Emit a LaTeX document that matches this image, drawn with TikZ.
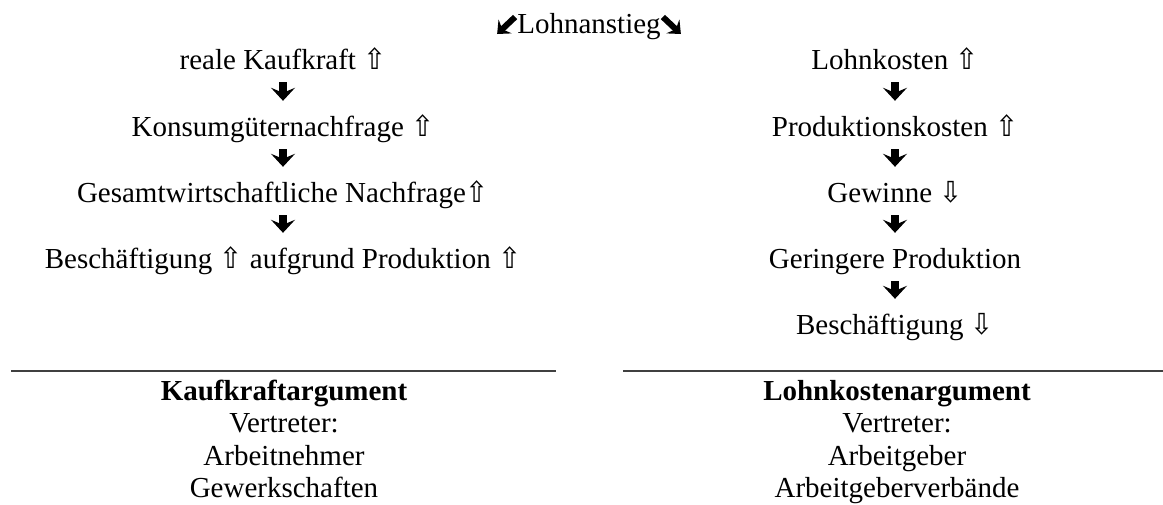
\documentclass[tikz,border=0pt]{standalone}
\usepackage{fontspec}
\usepackage{graphicx}
\setmainfont{Liberation Serif}
\newfontfamily\symfont{DejaVu Sans}
\usetikzlibrary{arrows.meta}
\newcommand{\UpA}{{\symfont\scalebox{0.95}[1.0]{⇧}}}
\newcommand{\DnA}{{\symfont\scalebox{0.95}[1.0]{⇩}}}
\begin{document}
\begin{tikzpicture}[x=1pt,y=-1pt,
  txt/.style={font=\fontsize{29pt}{35pt}\selectfont, inner sep=0pt, text height=20pt, text depth=6pt, anchor=base},
  btxt/.style={txt, font=\fontsize{29pt}{35pt}\selectfont\bfseries},
  flow/.style={line width=8pt, -{Stealth[length=13pt,width=24pt,inset=5pt]}, shorten <=7pt, shorten >=15pt},
  diag/.style={line width=6pt, -{Stealth[length=11pt,width=19pt,inset=4pt]}},
  rulestyle/.style={line width=1.3pt, black!75}]
\useasboundingbox (0,0) rectangle (1163,504);
% top
\node[txt] (lt) at (589,33) {Lohnanstieg};
\draw[diag] ([shift={(-2,-16)}]lt.base west) -- ([shift={(-20,1)}]lt.base west);
\draw[diag] ([shift={(2,-16)}]lt.base east) -- ([shift={(20,1)}]lt.base east);
% left column
\node[txt] (k1) at (283,69) {reale Kaufkraft \UpA};
\node[txt] (k2) at (283,136) {Konsumgüternachfrage \UpA};
\node[txt] (k3) at (283,202) {Gesamtwirtschaftliche Nachfrage\UpA};
\node[txt] (k4) at (283,268) {Beschäftigung \UpA{} aufgrund Produktion \UpA};
\draw[flow] (k1) -- (k2);
\draw[flow] (k2) -- (k3);
\draw[flow] (k3) -- (k4);
% right column
\node[txt] (l1) at (895,69) {Lohnkosten \UpA};
\node[txt] (l2) at (895,136) {Produktionskosten \UpA};
\node[txt] (l3) at (895,202) {Gewinne \DnA};
\node[txt] (l4) at (895,268) {Geringere Produktion};
\node[txt] (l5) at (895,334) {Beschäftigung \DnA};
\draw[flow] (l1) -- (l2);
\draw[flow] (l2) -- (l3);
\draw[flow] (l3) -- (l4);
\draw[flow] (l4) -- (l5);
% rules
\draw[rulestyle] (11,371) -- (556,371);
\draw[rulestyle] (623,371) -- (1163,371);
% bottom left
\node[btxt] (ka) at (284,400) {Kaufkraftargument};
\node[txt] (kv) at (284,432) {Vertreter:};
\node[txt] (kn) at (284,465) {Arbeitnehmer};
\node[txt] (kg) at (284,497) {Gewerkschaften};
% bottom right
\node[btxt] (la) at (897,400) {Lohnkostenargument};
\node[txt] (lv) at (897,432) {Vertreter:};
\node[txt] (lb) at (897,465) {Arbeitgeber};
\node[txt] (lc) at (897,497) {Arbeitgeberverbände};
\end{tikzpicture}
\end{document}
